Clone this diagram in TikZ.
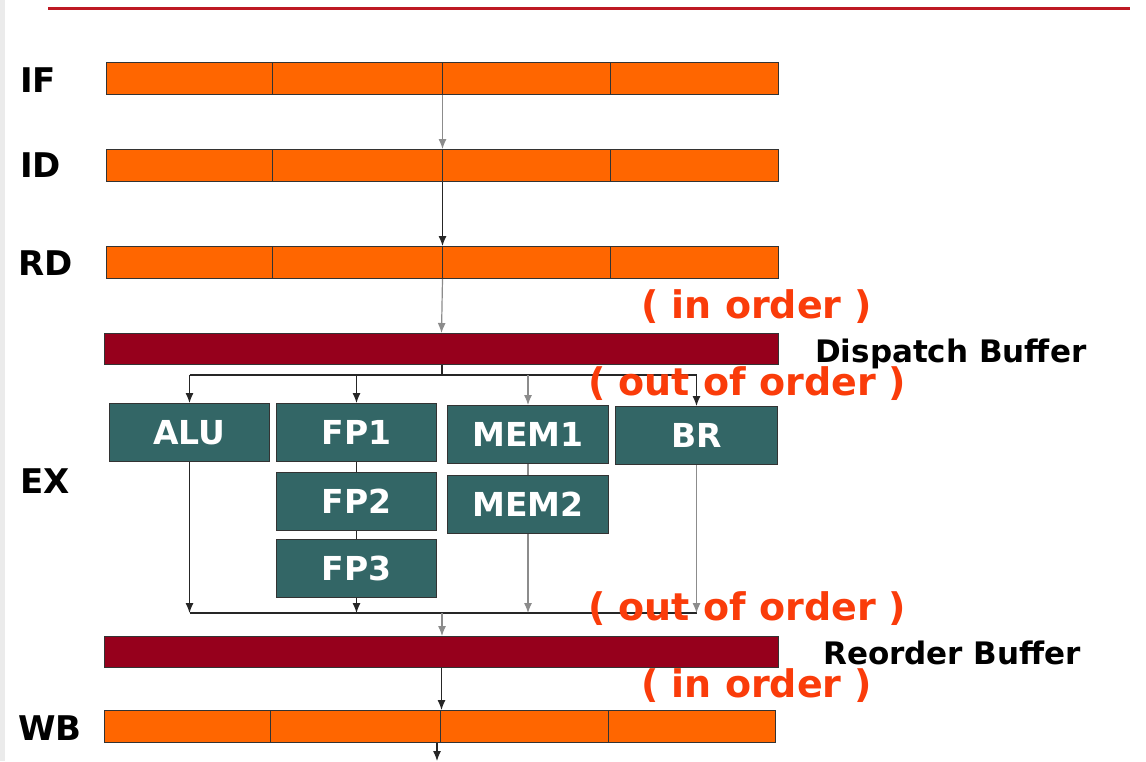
\documentclass[tikz,border=0pt]{standalone}
\usepackage{fontspec}
\setmainfont{DejaVu Sans}
\usetikzlibrary{arrows.meta,calc}
\definecolor{barorange}{RGB}{255,102,0}
\definecolor{bufred}{RGB}{150,0,28}
\definecolor{futeal}{RGB}{51,102,102}
\definecolor{ordred}{RGB}{250,60,10}
\definecolor{topline}{RGB}{190,25,35}
\begin{document}
\begin{tikzpicture}[x=1pt,y=-1pt,
 bar/.style={draw=black!80, fill=barorange, line width=1pt, minimum width=672pt, minimum height=32pt, inner sep=0pt, anchor=north west},
 buf/.style={draw=black!80, fill=bufred, line width=1pt, minimum width=674pt, minimum height=31pt, inner sep=0pt, anchor=north west},
 fu/.style={draw=black!80, fill=futeal, line width=1pt, minimum width=160pt, minimum height=58pt, inner sep=0pt, anchor=north west, text=white, font=\bfseries\fontsize{33}{33}\selectfont},
 stage/.style={anchor=base west, font=\bfseries\fontsize{34}{34}\selectfont, inner sep=0pt},
 bufl/.style={anchor=base west, font=\bfseries\fontsize{31}{31}\selectfont, inner sep=0pt},
 ord/.style={anchor=base west, text=ordred, font=\bfseries\fontsize{38}{38}\selectfont, inner sep=0pt},
 conn/.style={line width=1.2pt, black!85},
 gconn/.style={line width=1.2pt, black!45},
 arr/.style={conn, -{Latex[length=10pt,width=8pt]}},
 garr/.style={gconn, -{Latex[length=10pt,width=8pt]}},
 divider/.style={line width=1pt, black!80}
]
\useasboundingbox (0,0) rectangle (1146,761);
\fill[white] (0,0) rectangle (1146,761);
\fill[black!8] (0,0) rectangle (5,761);
\draw[topline, line width=3pt] (48,8) -- (1130,8);

% pipeline bars
\node[bar] (IF) at (106,62) {};
\node[bar] (ID) at (106,149) {};
\node[bar] (RD) at (106,246) {};
\node[bar, minimum width=671pt] (WB) at (104,710) {};
\foreach \b in {IF,ID,RD,WB}{
  \foreach \f in {0.248,0.5,0.75}{
    \draw[divider] ($(\b.north west)!\f!(\b.north east)$) -- ($(\b.south west)!\f!(\b.south east)$);
  }
}
\node[buf] (DB) at (104,333) {};
\node[buf] (RB) at (104,636) {};

% stage labels
\node[stage] (lIF) at (20,92) {IF};
\node[stage] (lID) at (20,177) {ID};
\node[stage] (lRD) at (18,275) {RD};
\node[stage] (lEX) at (20,493) {EX};
\node[stage] (lWB) at (18,740) {WB};

% functional units
\node[fu] (ALU) at (109,403) {ALU};
\node[fu] (FP1) at (276,403) {FP1};
\node[fu] (FP2) at (276,472) {FP2};
\node[fu] (FP3) at (276,539) {FP3};
\node[fu, minimum width=161pt] (MEM1) at (447,405) {MEM1};
\node[fu, minimum width=161pt] (MEM2) at (447,475) {MEM2};
\node[fu, minimum width=162pt] (BR) at (615,406) {BR};

% buffer labels
\node[bufl] (lDB) at (815,362) {Dispatch Buffer};
\node[bufl] (lRB) at (823,664) {Reorder Buffer};

% in-order pipeline arrows
\draw[garr] (IF.south) -- (ID.north);
\draw[arr] (ID.south) -- (RD.north);
\draw[garr] (RD.south) -- (DB.north);

% dispatch fan-out
\coordinate (dsplit) at (442,375);
\draw[conn] (DB.south -| dsplit) -- (dsplit);
\draw[conn] (ALU.north |- dsplit) -- (BR.north |- dsplit);
\draw[arr] (ALU.north |- dsplit) -- (ALU.north);
\draw[arr] (FP1.north |- dsplit) -- (FP1.north);
\draw[garr] (MEM1.north |- dsplit) -- (MEM1.north);
\draw[arr] (BR.north |- dsplit) -- (BR.north);

% unit chains
\draw[conn] (FP1.south) -- (FP2.north);
\draw[conn] (FP2.south) -- (FP3.north);
\draw[gconn] (MEM1.south) -- (MEM2.north);

% collection
\coordinate (csplit) at (442,613);
\draw[conn] (ALU.south |- csplit) -- (BR.south |- csplit);
\draw[arr] (ALU.south) -- (ALU.south |- csplit);
\draw[arr] (FP3.south) -- (FP3.south |- csplit);
\draw[garr] (MEM2.south) -- (MEM2.south |- csplit);
\draw[garr] (BR.south) -- (BR.south |- csplit);
\draw[garr] (csplit) -- (csplit |- RB.north);

% commit
\draw[arr] (RB.south) -- (RB.south |- WB.north);
\coordinate (wbout) at (437,761);
\draw[arr] (WB.south -| wbout) -- (wbout);

% order annotations
\node[ord] (o1) at (641,318) {( in order )};
\node[ord] (o2) at (588,395) {( out of order )};
\node[ord] (o3) at (588,620) {( out of order )};
\node[ord] (o4) at (641,697) {( in order )};
\end{tikzpicture}
\end{document}
